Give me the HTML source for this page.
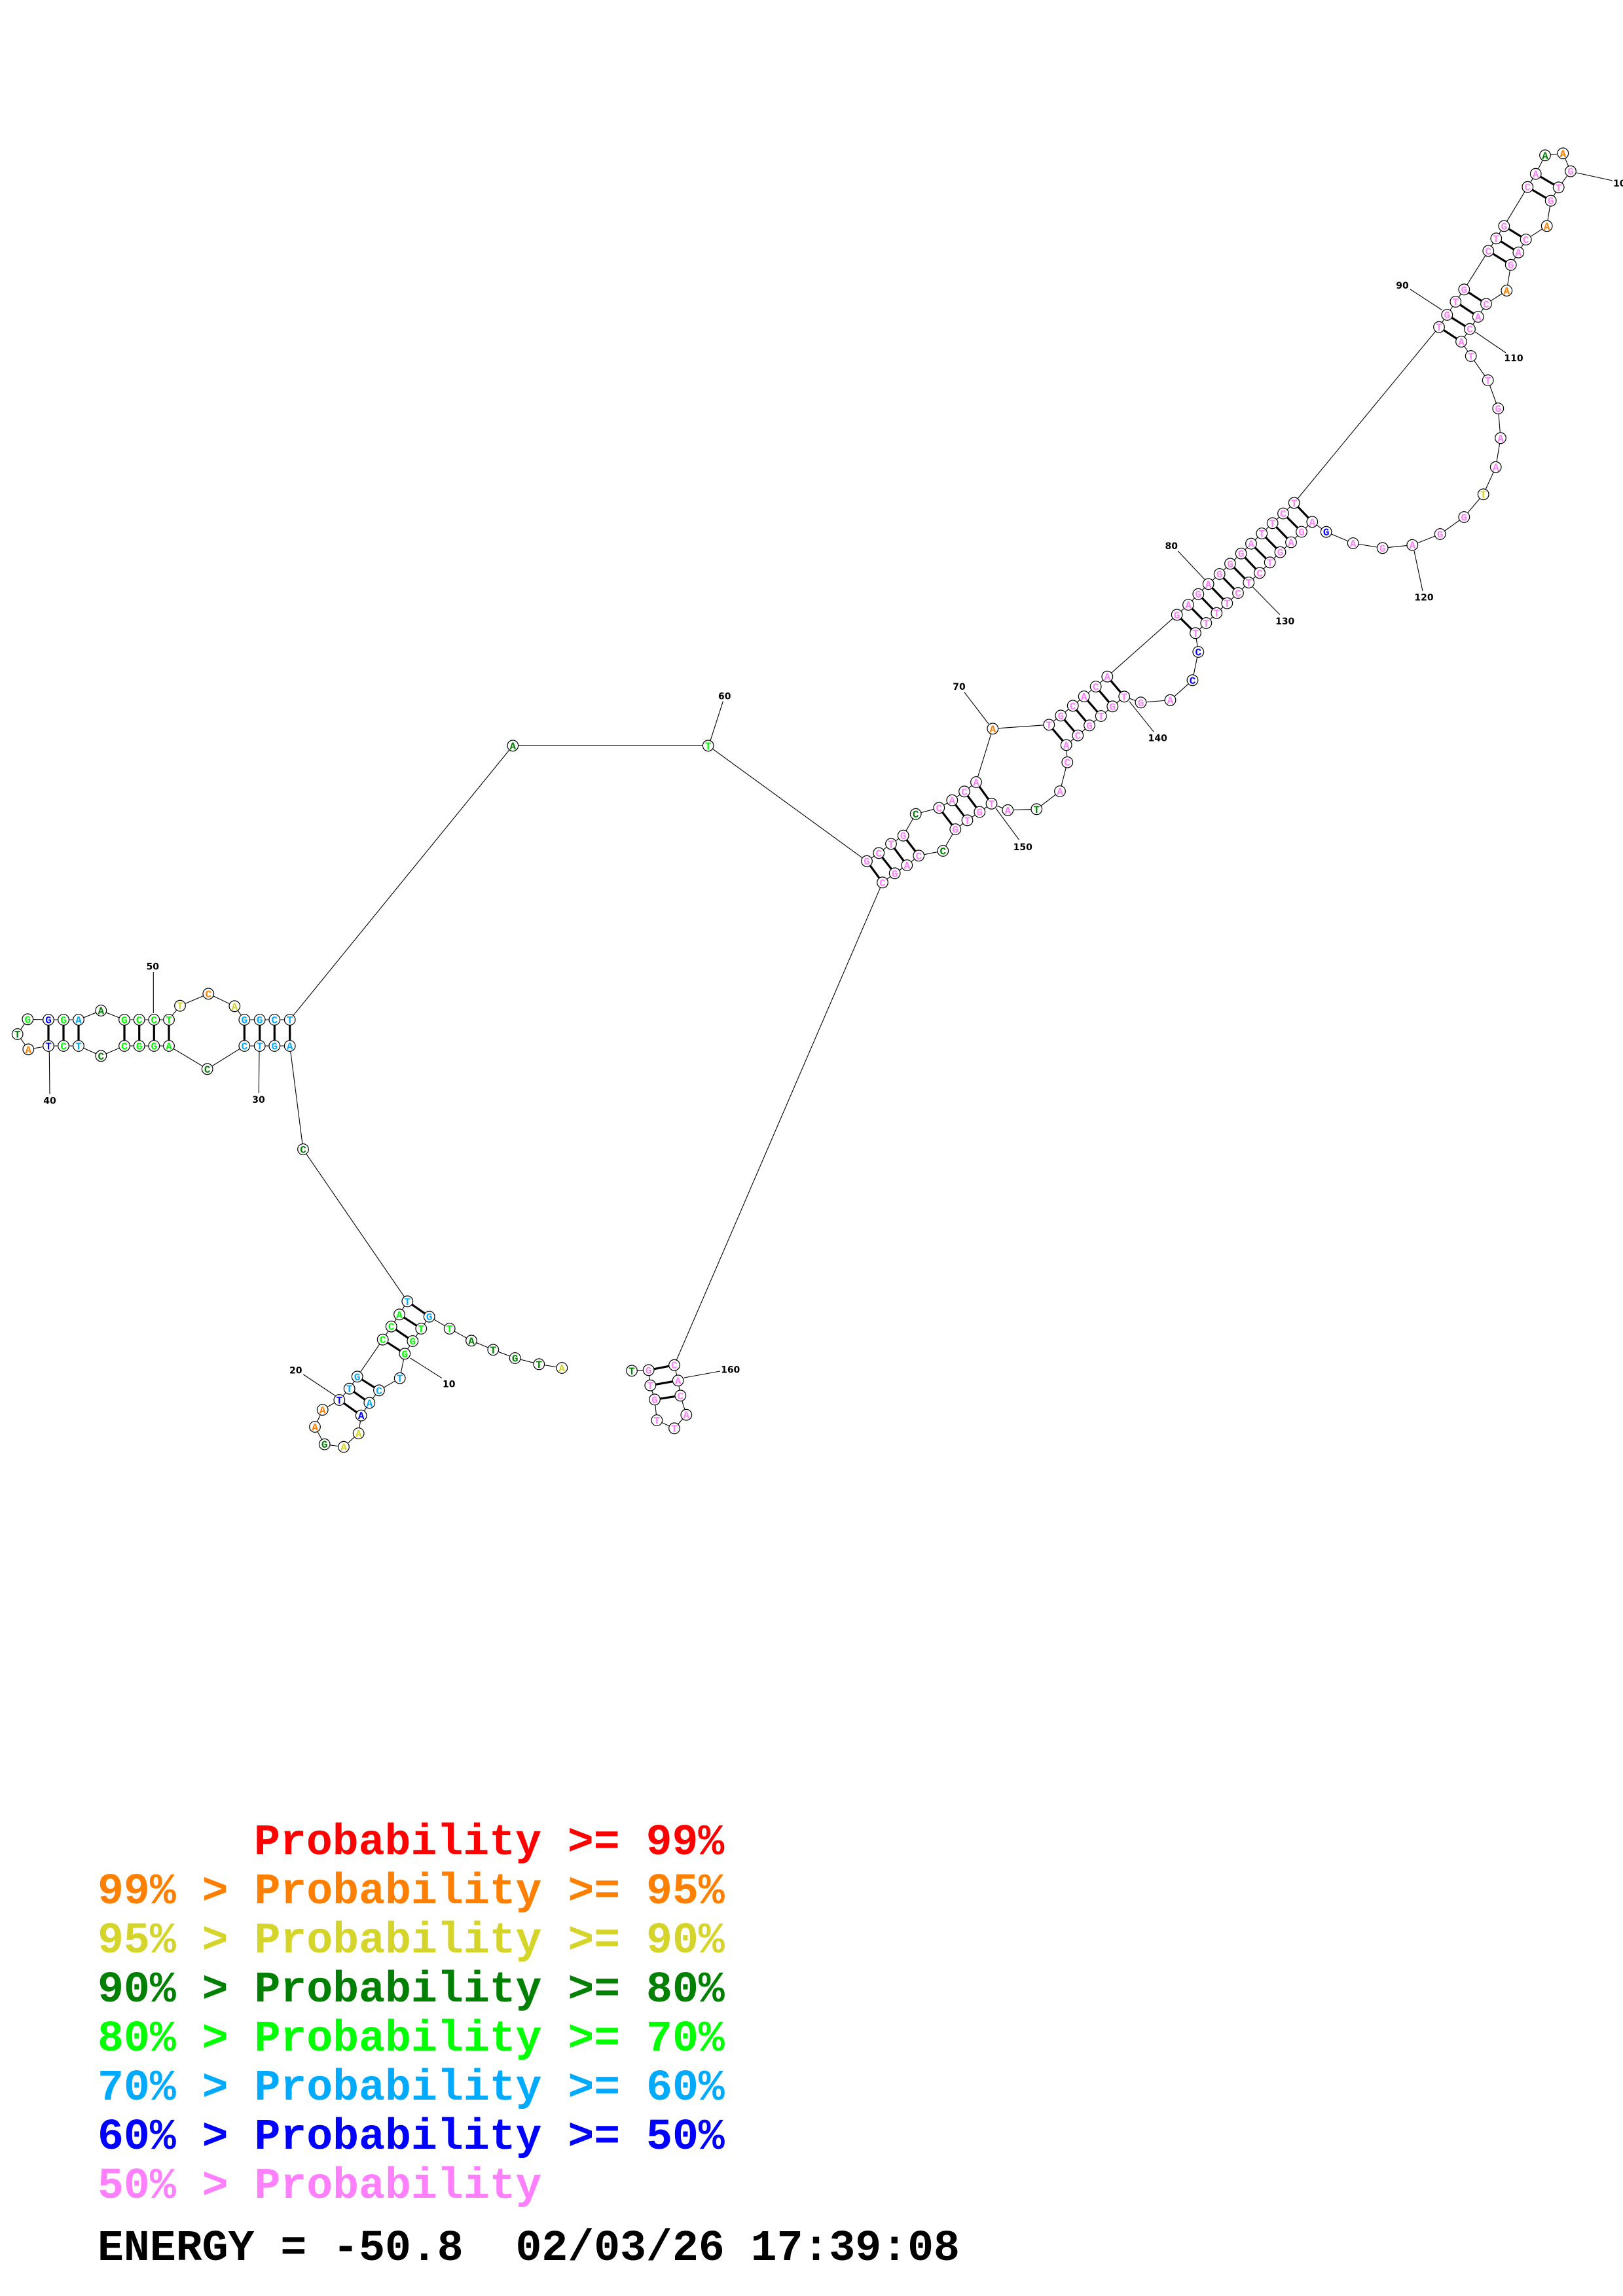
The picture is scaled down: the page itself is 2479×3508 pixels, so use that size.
<!DOCTYPE html>
<html>
<head>
<meta charset="utf-8">
<style>
html,body{margin:0;padding:0;background:#fff;}
svg{display:block;}
.bb{fill:none;stroke:#000;stroke-width:1.1;}
.bd line{stroke:#000;stroke-width:3.2;}
.lb line{stroke:#000;stroke-width:1.1;}
.cc circle{fill:#fff;stroke:#000;stroke-width:1.2;}
.tt text{font-family:"Liberation Mono",monospace;font-weight:bold;font-size:16px;text-anchor:middle;}
.lab text{font-family:"DejaVu Sans",sans-serif;font-weight:bold;font-size:14px;text-anchor:middle;fill:#000;}
.leg text{font-family:"Liberation Mono",monospace;font-weight:bold;font-size:66.5px;white-space:pre;}
.p{fill:#ff80ff}.b{fill:#0000ff}.l{fill:#00aaff}.g{fill:#00ff00}.d{fill:#008000}.y{fill:#d4d42a}.o{fill:#ff8000}.r{fill:#ff0000}.k{fill:#000}
</style>
</head>
<body>
<svg width="2479" height="3508" viewBox="0 0 2479 3508" xmlns="http://www.w3.org/2000/svg">
<rect x="0" y="0" width="2479" height="3508" fill="#fff"/>
<polyline class="bb" points="858.3,2090 823.3,2084.3 786.7,2075 753.3,2062.3 720,2048.3 686.7,2030 655.7,2011.7 643.3,2030 630.3,2049 618.3,2068.3 610.7,2105.7 579,2124.3 564.3,2143.3 551.7,2162.7 547.7,2190 525,2210.7 495.7,2206.7 481,2180 492.7,2154 518.3,2139 533.7,2121.7 545.7,2103.3 584.7,2046.7 597.7,2026.7 610,2008.3 622.3,1988.3 463,1756 442.7,1598 419.3,1598 396.7,1598 373.3,1598 316.7,1633.3 258,1598 235.3,1598 212.7,1598 190,1598 154.3,1613.3 120,1598 97,1598 74,1598 43.3,1603.3 26.7,1580 42.3,1557.3 74,1558 97,1558 120,1558 154.3,1544 190,1558 212.7,1558 235.3,1558 258,1558 275,1536.7 318.3,1518.3 358.3,1537.3 373.3,1558 396.7,1558 419.3,1558 442.7,1558 783.3,1139.3 1081.7,1139.3 1324,1315.7 1342.3,1303.3 1361,1289.3 1379.7,1276.7 1398.7,1243.7 1434.3,1234.3 1454.3,1222.7 1473,1209.3 1491,1195 1516.3,1113.3 1602.3,1107.3 1620.3,1093.3 1638.7,1078.3 1655.7,1064 1673.7,1049 1691.3,1033.7 1797.7,939.3 1815,924 1830.3,907.7 1845.7,892.3 1862.7,877 1879,861.3 1895.7,845.7 1911,830.7 1927.3,815 1943.7,799.3 1960,784.5 1976.7,768.3 2198,499.7 2210.3,481 2223.3,461 2236.3,442.3 2273.3,383.3 2285.3,364.3 2297.3,345.3 2333.3,285.7 2345.7,265.7 2360,237.3 2387.3,234.3 2399,261.7 2380.7,286.3 2368.7,306.7 2362.7,345.3 2330.7,366 2319.3,385.7 2307.7,404.7 2301.3,444 2270,464.3 2257.7,484 2245,502.7 2232,522 2246.7,544 2272.7,581 2288.3,624 2292,669.3 2284.7,713.7 2265.7,755.3 2236.3,790 2199.7,816 2157.3,832.7 2111.7,837.3 2066.7,830 2025.7,812.7 2004.3,797.3 1988,812.5 1972,828.5 1955.5,843.7 1939.7,859.3 1924,875.3 1907.3,890 1891,906 1874.3,921.7 1858.3,936.7 1842.3,952 1826,967.3 1830.3,996 1821.5,1039.3 1787.5,1069.7 1742.5,1073.3 1717.2,1064.3 1699.3,1079.3 1681.7,1094 1664,1108.3 1646.3,1123.7 1628.7,1138.3 1630.3,1164.7 1619,1209 1583.3,1236.3 1539.3,1237.8 1514.5,1227.8 1496.3,1240.5 1477.5,1253.3 1459.3,1267 1440.3,1300 1403.3,1307.3 1385.3,1322 1366.7,1334.3 1348,1348.3 1030,2085.7 1035.7,2109.3 1039.3,2132.3 1048.3,2161.7 1030,2182.3 1003.3,2170 1000,2138.3 993.3,2116.7 990.7,2093.3 965,2094.3"/>
<g class="bd">
<line x1="655.7" y1="2011.7" x2="622.3" y2="1988.3"/>
<line x1="643.3" y1="2030" x2="610" y2="2008.3"/>
<line x1="630.3" y1="2049" x2="597.7" y2="2026.7"/>
<line x1="618.3" y1="2068.3" x2="584.7" y2="2046.7"/>
<line x1="579" y1="2124.3" x2="545.7" y2="2103.3"/>
<line x1="564.3" y1="2143.3" x2="533.7" y2="2121.7"/>
<line x1="551.7" y1="2162.7" x2="518.3" y2="2139"/>
<line x1="442.7" y1="1598" x2="442.7" y2="1558"/>
<line x1="419.3" y1="1598" x2="419.3" y2="1558"/>
<line x1="396.7" y1="1598" x2="396.7" y2="1558"/>
<line x1="373.3" y1="1598" x2="373.3" y2="1558"/>
<line x1="258" y1="1598" x2="258" y2="1558"/>
<line x1="235.3" y1="1598" x2="235.3" y2="1558"/>
<line x1="212.7" y1="1598" x2="212.7" y2="1558"/>
<line x1="190" y1="1598" x2="190" y2="1558"/>
<line x1="120" y1="1598" x2="120" y2="1558"/>
<line x1="97" y1="1598" x2="97" y2="1558"/>
<line x1="74" y1="1598" x2="74" y2="1558"/>
<line x1="1324" y1="1315.7" x2="1348" y2="1348.3"/>
<line x1="1342.3" y1="1303.3" x2="1366.7" y2="1334.3"/>
<line x1="1361" y1="1289.3" x2="1385.3" y2="1322"/>
<line x1="1379.7" y1="1276.7" x2="1403.3" y2="1307.3"/>
<line x1="1434.3" y1="1234.3" x2="1459.3" y2="1267"/>
<line x1="1454.3" y1="1222.7" x2="1477.5" y2="1253.3"/>
<line x1="1473" y1="1209.3" x2="1496.3" y2="1240.5"/>
<line x1="1491" y1="1195" x2="1514.5" y2="1227.8"/>
<line x1="1602.3" y1="1107.3" x2="1628.7" y2="1138.3"/>
<line x1="1620.3" y1="1093.3" x2="1646.3" y2="1123.7"/>
<line x1="1638.7" y1="1078.3" x2="1664" y2="1108.3"/>
<line x1="1655.7" y1="1064" x2="1681.7" y2="1094"/>
<line x1="1673.7" y1="1049" x2="1699.3" y2="1079.3"/>
<line x1="1691.3" y1="1033.7" x2="1717.2" y2="1064.3"/>
<line x1="1797.7" y1="939.3" x2="1826" y2="967.3"/>
<line x1="1815" y1="924" x2="1842.3" y2="952"/>
<line x1="1830.3" y1="907.7" x2="1858.3" y2="936.7"/>
<line x1="1845.7" y1="892.3" x2="1874.3" y2="921.7"/>
<line x1="1862.7" y1="877" x2="1891" y2="906"/>
<line x1="1879" y1="861.3" x2="1907.3" y2="890"/>
<line x1="1895.7" y1="845.7" x2="1924" y2="875.3"/>
<line x1="1911" y1="830.7" x2="1939.7" y2="859.3"/>
<line x1="1927.3" y1="815" x2="1955.5" y2="843.7"/>
<line x1="1943.7" y1="799.3" x2="1972" y2="828.5"/>
<line x1="1960" y1="784.5" x2="1988" y2="812.5"/>
<line x1="1976.7" y1="768.3" x2="2004.3" y2="797.3"/>
<line x1="2198" y1="499.7" x2="2232" y2="522"/>
<line x1="2210.3" y1="481" x2="2245" y2="502.7"/>
<line x1="2223.3" y1="461" x2="2257.7" y2="484"/>
<line x1="2236.3" y1="442.3" x2="2270" y2="464.3"/>
<line x1="2273.3" y1="383.3" x2="2307.7" y2="404.7"/>
<line x1="2285.3" y1="364.3" x2="2319.3" y2="385.7"/>
<line x1="2297.3" y1="345.3" x2="2330.7" y2="366"/>
<line x1="2333.3" y1="285.7" x2="2368.7" y2="306.7"/>
<line x1="2345.7" y1="265.7" x2="2380.7" y2="286.3"/>
<line x1="1030" y1="2085.7" x2="990.7" y2="2093.3"/>
<line x1="1035.7" y1="2109.3" x2="993.3" y2="2116.7"/>
<line x1="1039.3" y1="2132.3" x2="1000" y2="2138.3"/>
</g>
<g class="lb">
<line x1="626.7" y1="2075" x2="675" y2="2105.7"/>
<line x1="463.3" y1="2100" x2="513.3" y2="2133.3"/>
<line x1="396" y1="1605" x2="395.3" y2="1670"/>
<line x1="75.3" y1="1606.7" x2="76" y2="1671.7"/>
<line x1="234.3" y1="1485" x2="234.3" y2="1548"/>
<line x1="1085" y1="1131.7" x2="1104.3" y2="1071.7"/>
<line x1="1472.7" y1="1057.3" x2="1510" y2="1106"/>
<line x1="1799.3" y1="842" x2="1840" y2="885.3"/>
<line x1="2154" y1="442" x2="2203" y2="474"/>
<line x1="2408" y1="264" x2="2463" y2="276"/>
<line x1="2253" y1="507" x2="2300" y2="539"/>
<line x1="2160" y1="841.7" x2="2173" y2="903"/>
<line x1="1913.3" y1="896.7" x2="1955" y2="939.3"/>
<line x1="1725" y1="1071.7" x2="1762.3" y2="1118.3"/>
<line x1="1521" y1="1235" x2="1556.7" y2="1283.3"/>
<line x1="1045" y1="2105" x2="1100" y2="2095"/>
</g>
<g class="lab">
<text x="685.7" y="2119.3">10</text>
<text x="451.7" y="2098.3">20</text>
<text x="395" y="1685">30</text>
<text x="76" y="1686.7">40</text>
<text x="233.3" y="1481.7">50</text>
<text x="1106.7" y="1068.3">60</text>
<text x="1465" y="1054">70</text>
<text x="1789.3" y="839">80</text>
<text x="2142" y="441">90</text>
<text x="2464" y="285" style="text-anchor:start">100</text>
<text x="2312" y="552">110</text>
<text x="2175" y="917.7">120</text>
<text x="1962.7" y="954">130</text>
<text x="1768.3" y="1132.7">140</text>
<text x="1562.3" y="1299">150</text>
<text x="1115.7" y="2097.7">160</text>
</g>
<g class="cc">
<circle cx="858.3" cy="2090" r="8.3"/><circle cx="823.3" cy="2084.3" r="8.3"/><circle cx="786.7" cy="2075" r="8.3"/><circle cx="753.3" cy="2062.3" r="8.3"/><circle cx="720" cy="2048.3" r="8.3"/><circle cx="686.7" cy="2030" r="8.3"/><circle cx="655.7" cy="2011.7" r="8.3"/><circle cx="643.3" cy="2030" r="8.3"/><circle cx="630.3" cy="2049" r="8.3"/><circle cx="618.3" cy="2068.3" r="8.3"/>
<circle cx="610.7" cy="2105.7" r="8.3"/><circle cx="579" cy="2124.3" r="8.3"/><circle cx="564.3" cy="2143.3" r="8.3"/><circle cx="551.7" cy="2162.7" r="8.3"/><circle cx="547.7" cy="2190" r="8.3"/><circle cx="525" cy="2210.7" r="8.3"/><circle cx="495.7" cy="2206.7" r="8.3"/><circle cx="481" cy="2180" r="8.3"/><circle cx="492.7" cy="2154" r="8.3"/><circle cx="518.3" cy="2139" r="8.3"/>
<circle cx="533.7" cy="2121.7" r="8.3"/><circle cx="545.7" cy="2103.3" r="8.3"/><circle cx="584.7" cy="2046.7" r="8.3"/><circle cx="597.7" cy="2026.7" r="8.3"/><circle cx="610" cy="2008.3" r="8.3"/><circle cx="622.3" cy="1988.3" r="8.3"/><circle cx="463" cy="1756" r="8.3"/><circle cx="442.7" cy="1598" r="8.3"/><circle cx="419.3" cy="1598" r="8.3"/><circle cx="396.7" cy="1598" r="8.3"/>
<circle cx="373.3" cy="1598" r="8.3"/><circle cx="316.7" cy="1633.3" r="8.3"/><circle cx="258" cy="1598" r="8.3"/><circle cx="235.3" cy="1598" r="8.3"/><circle cx="212.7" cy="1598" r="8.3"/><circle cx="190" cy="1598" r="8.3"/><circle cx="154.3" cy="1613.3" r="8.3"/><circle cx="120" cy="1598" r="8.3"/><circle cx="97" cy="1598" r="8.3"/><circle cx="74" cy="1598" r="8.3"/>
<circle cx="43.3" cy="1603.3" r="8.3"/><circle cx="26.7" cy="1580" r="8.3"/><circle cx="42.3" cy="1557.3" r="8.3"/><circle cx="74" cy="1558" r="8.3"/><circle cx="97" cy="1558" r="8.3"/><circle cx="120" cy="1558" r="8.3"/><circle cx="154.3" cy="1544" r="8.3"/><circle cx="190" cy="1558" r="8.3"/><circle cx="212.7" cy="1558" r="8.3"/><circle cx="235.3" cy="1558" r="8.3"/>
<circle cx="258" cy="1558" r="8.3"/><circle cx="275" cy="1536.7" r="8.3"/><circle cx="318.3" cy="1518.3" r="8.3"/><circle cx="358.3" cy="1537.3" r="8.3"/><circle cx="373.3" cy="1558" r="8.3"/><circle cx="396.7" cy="1558" r="8.3"/><circle cx="419.3" cy="1558" r="8.3"/><circle cx="442.7" cy="1558" r="8.3"/><circle cx="783.3" cy="1139.3" r="8.3"/><circle cx="1081.7" cy="1139.3" r="8.3"/>
<circle cx="1324" cy="1315.7" r="8.3"/><circle cx="1342.3" cy="1303.3" r="8.3"/><circle cx="1361" cy="1289.3" r="8.3"/><circle cx="1379.7" cy="1276.7" r="8.3"/><circle cx="1398.7" cy="1243.7" r="8.3"/><circle cx="1434.3" cy="1234.3" r="8.3"/><circle cx="1454.3" cy="1222.7" r="8.3"/><circle cx="1473" cy="1209.3" r="8.3"/><circle cx="1491" cy="1195" r="8.3"/><circle cx="1516.3" cy="1113.3" r="8.3"/>
<circle cx="1602.3" cy="1107.3" r="8.3"/><circle cx="1620.3" cy="1093.3" r="8.3"/><circle cx="1638.7" cy="1078.3" r="8.3"/><circle cx="1655.7" cy="1064" r="8.3"/><circle cx="1673.7" cy="1049" r="8.3"/><circle cx="1691.3" cy="1033.7" r="8.3"/><circle cx="1797.7" cy="939.3" r="8.3"/><circle cx="1815" cy="924" r="8.3"/><circle cx="1830.3" cy="907.7" r="8.3"/><circle cx="1845.7" cy="892.3" r="8.3"/>
<circle cx="1862.7" cy="877" r="8.3"/><circle cx="1879" cy="861.3" r="8.3"/><circle cx="1895.7" cy="845.7" r="8.3"/><circle cx="1911" cy="830.7" r="8.3"/><circle cx="1927.3" cy="815" r="8.3"/><circle cx="1943.7" cy="799.3" r="8.3"/><circle cx="1960" cy="784.5" r="8.3"/><circle cx="1976.7" cy="768.3" r="8.3"/><circle cx="2198" cy="499.7" r="8.3"/><circle cx="2210.3" cy="481" r="8.3"/>
<circle cx="2223.3" cy="461" r="8.3"/><circle cx="2236.3" cy="442.3" r="8.3"/><circle cx="2273.3" cy="383.3" r="8.3"/><circle cx="2285.3" cy="364.3" r="8.3"/><circle cx="2297.3" cy="345.3" r="8.3"/><circle cx="2333.3" cy="285.7" r="8.3"/><circle cx="2345.7" cy="265.7" r="8.3"/><circle cx="2360" cy="237.3" r="8.3"/><circle cx="2387.3" cy="234.3" r="8.3"/><circle cx="2399" cy="261.7" r="8.3"/>
<circle cx="2380.7" cy="286.3" r="8.3"/><circle cx="2368.7" cy="306.7" r="8.3"/><circle cx="2362.7" cy="345.3" r="8.3"/><circle cx="2330.7" cy="366" r="8.3"/><circle cx="2319.3" cy="385.7" r="8.3"/><circle cx="2307.7" cy="404.7" r="8.3"/><circle cx="2301.3" cy="444" r="8.3"/><circle cx="2270" cy="464.3" r="8.3"/><circle cx="2257.7" cy="484" r="8.3"/><circle cx="2245" cy="502.7" r="8.3"/>
<circle cx="2232" cy="522" r="8.3"/><circle cx="2246.7" cy="544" r="8.3"/><circle cx="2272.7" cy="581" r="8.3"/><circle cx="2288.3" cy="624" r="8.3"/><circle cx="2292" cy="669.3" r="8.3"/><circle cx="2284.7" cy="713.7" r="8.3"/><circle cx="2265.7" cy="755.3" r="8.3"/><circle cx="2236.3" cy="790" r="8.3"/><circle cx="2199.7" cy="816" r="8.3"/><circle cx="2157.3" cy="832.7" r="8.3"/>
<circle cx="2111.7" cy="837.3" r="8.3"/><circle cx="2066.7" cy="830" r="8.3"/><circle cx="2025.7" cy="812.7" r="8.3"/><circle cx="2004.3" cy="797.3" r="8.3"/><circle cx="1988" cy="812.5" r="8.3"/><circle cx="1972" cy="828.5" r="8.3"/><circle cx="1955.5" cy="843.7" r="8.3"/><circle cx="1939.7" cy="859.3" r="8.3"/><circle cx="1924" cy="875.3" r="8.3"/><circle cx="1907.3" cy="890" r="8.3"/>
<circle cx="1891" cy="906" r="8.3"/><circle cx="1874.3" cy="921.7" r="8.3"/><circle cx="1858.3" cy="936.7" r="8.3"/><circle cx="1842.3" cy="952" r="8.3"/><circle cx="1826" cy="967.3" r="8.3"/><circle cx="1830.3" cy="996" r="8.3"/><circle cx="1821.5" cy="1039.3" r="8.3"/><circle cx="1787.5" cy="1069.7" r="8.3"/><circle cx="1742.5" cy="1073.3" r="8.3"/><circle cx="1717.2" cy="1064.3" r="8.3"/>
<circle cx="1699.3" cy="1079.3" r="8.3"/><circle cx="1681.7" cy="1094" r="8.3"/><circle cx="1664" cy="1108.3" r="8.3"/><circle cx="1646.3" cy="1123.7" r="8.3"/><circle cx="1628.7" cy="1138.3" r="8.3"/><circle cx="1630.3" cy="1164.7" r="8.3"/><circle cx="1619" cy="1209" r="8.3"/><circle cx="1583.3" cy="1236.3" r="8.3"/><circle cx="1539.3" cy="1237.8" r="8.3"/><circle cx="1514.5" cy="1227.8" r="8.3"/>
<circle cx="1496.3" cy="1240.5" r="8.3"/><circle cx="1477.5" cy="1253.3" r="8.3"/><circle cx="1459.3" cy="1267" r="8.3"/><circle cx="1440.3" cy="1300" r="8.3"/><circle cx="1403.3" cy="1307.3" r="8.3"/><circle cx="1385.3" cy="1322" r="8.3"/><circle cx="1366.7" cy="1334.3" r="8.3"/><circle cx="1348" cy="1348.3" r="8.3"/><circle cx="1030" cy="2085.7" r="8.3"/><circle cx="1035.7" cy="2109.3" r="8.3"/>
<circle cx="1039.3" cy="2132.3" r="8.3"/><circle cx="1048.3" cy="2161.7" r="8.3"/><circle cx="1030" cy="2182.3" r="8.3"/><circle cx="1003.3" cy="2170" r="8.3"/><circle cx="1000" cy="2138.3" r="8.3"/><circle cx="993.3" cy="2116.7" r="8.3"/><circle cx="990.7" cy="2093.3" r="8.3"/><circle cx="965" cy="2094.3" r="8.3"/>
</g>
<g class="tt" transform="translate(0,5.5)">
<text x="858.3" y="2090" class="y">A</text><text x="823.3" y="2084.3" class="d">T</text><text x="786.7" y="2075" class="d">G</text><text x="753.3" y="2062.3" class="d">T</text><text x="720" y="2048.3" class="d">A</text><text x="686.7" y="2030" class="g">T</text><text x="655.7" y="2011.7" class="l">G</text><text x="643.3" y="2030" class="g">T</text><text x="630.3" y="2049" class="g">G</text><text x="618.3" y="2068.3" class="g">G</text>
<text x="610.7" y="2105.7" class="l">T</text><text x="579" y="2124.3" class="l">C</text><text x="564.3" y="2143.3" class="l">A</text><text x="551.7" y="2162.7" class="b">A</text><text x="547.7" y="2190" class="y">A</text><text x="525" y="2210.7" class="y">A</text><text x="495.7" y="2206.7" class="d">G</text><text x="481" y="2180" class="o">A</text><text x="492.7" y="2154" class="o">A</text><text x="518.3" y="2139" class="b">T</text>
<text x="533.7" y="2121.7" class="l">T</text><text x="545.7" y="2103.3" class="l">G</text><text x="584.7" y="2046.7" class="g">C</text><text x="597.7" y="2026.7" class="g">C</text><text x="610" y="2008.3" class="g">A</text><text x="622.3" y="1988.3" class="l">T</text><text x="463" y="1756" class="d">C</text><text x="442.7" y="1598" class="l">A</text><text x="419.3" y="1598" class="l">G</text><text x="396.7" y="1598" class="l">T</text>
<text x="373.3" y="1598" class="l">C</text><text x="316.7" y="1633.3" class="d">C</text><text x="258" y="1598" class="g">A</text><text x="235.3" y="1598" class="g">G</text><text x="212.7" y="1598" class="g">G</text><text x="190" y="1598" class="g">C</text><text x="154.3" y="1613.3" class="d">C</text><text x="120" y="1598" class="l">T</text><text x="97" y="1598" class="g">C</text><text x="74" y="1598" class="b">T</text>
<text x="43.3" y="1603.3" class="o">A</text><text x="26.7" y="1580" class="d">T</text><text x="42.3" y="1557.3" class="g">G</text><text x="74" y="1558" class="b">G</text><text x="97" y="1558" class="g">G</text><text x="120" y="1558" class="l">A</text><text x="154.3" y="1544" class="d">A</text><text x="190" y="1558" class="g">G</text><text x="212.7" y="1558" class="g">C</text><text x="235.3" y="1558" class="g">C</text>
<text x="258" y="1558" class="g">T</text><text x="275" y="1536.7" class="y">T</text><text x="318.3" y="1518.3" class="o">C</text><text x="358.3" y="1537.3" class="y">A</text><text x="373.3" y="1558" class="l">G</text><text x="396.7" y="1558" class="l">G</text><text x="419.3" y="1558" class="l">C</text><text x="442.7" y="1558" class="l">T</text><text x="783.3" y="1139.3" class="d">A</text><text x="1081.7" y="1139.3" class="g">T</text>
<text x="1324" y="1315.7" class="p">G</text><text x="1342.3" y="1303.3" class="p">C</text><text x="1361" y="1289.3" class="p">T</text><text x="1379.7" y="1276.7" class="p">G</text><text x="1398.7" y="1243.7" class="d">C</text><text x="1434.3" y="1234.3" class="p">C</text><text x="1454.3" y="1222.7" class="p">A</text><text x="1473" y="1209.3" class="p">C</text><text x="1491" y="1195" class="p">A</text><text x="1516.3" y="1113.3" class="o">A</text>
<text x="1602.3" y="1107.3" class="p">T</text><text x="1620.3" y="1093.3" class="p">G</text><text x="1638.7" y="1078.3" class="p">C</text><text x="1655.7" y="1064" class="p">A</text><text x="1673.7" y="1049" class="p">C</text><text x="1691.3" y="1033.7" class="p">A</text><text x="1797.7" y="939.3" class="p">G</text><text x="1815" y="924" class="p">A</text><text x="1830.3" y="907.7" class="p">G</text><text x="1845.7" y="892.3" class="p">A</text>
<text x="1862.7" y="877" class="p">G</text><text x="1879" y="861.3" class="p">G</text><text x="1895.7" y="845.7" class="p">G</text><text x="1911" y="830.7" class="p">A</text><text x="1927.3" y="815" class="p">T</text><text x="1943.7" y="799.3" class="p">T</text><text x="1960" y="784.5" class="p">C</text><text x="1976.7" y="768.3" class="p">T</text><text x="2198" y="499.7" class="p">T</text><text x="2210.3" y="481" class="p">G</text>
<text x="2223.3" y="461" class="p">T</text><text x="2236.3" y="442.3" class="p">G</text><text x="2273.3" y="383.3" class="p">C</text><text x="2285.3" y="364.3" class="p">T</text><text x="2297.3" y="345.3" class="p">G</text><text x="2333.3" y="285.7" class="p">C</text><text x="2345.7" y="265.7" class="p">A</text><text x="2360" y="237.3" class="d">A</text><text x="2387.3" y="234.3" class="o">A</text><text x="2399" y="261.7" class="p">G</text>
<text x="2380.7" y="286.3" class="p">T</text><text x="2368.7" y="306.7" class="p">G</text><text x="2362.7" y="345.3" class="o">A</text><text x="2330.7" y="366" class="p">C</text><text x="2319.3" y="385.7" class="p">A</text><text x="2307.7" y="404.7" class="p">G</text><text x="2301.3" y="444" class="o">A</text><text x="2270" y="464.3" class="p">C</text><text x="2257.7" y="484" class="p">A</text><text x="2245" y="502.7" class="p">C</text>
<text x="2232" y="522" class="p">A</text><text x="2246.7" y="544" class="p">T</text><text x="2272.7" y="581" class="p">T</text><text x="2288.3" y="624" class="p">G</text><text x="2292" y="669.3" class="p">A</text><text x="2284.7" y="713.7" class="p">A</text><text x="2265.7" y="755.3" class="y">T</text><text x="2236.3" y="790" class="p">G</text><text x="2199.7" y="816" class="p">G</text><text x="2157.3" y="832.7" class="p">A</text>
<text x="2111.7" y="837.3" class="p">G</text><text x="2066.7" y="830" class="p">A</text><text x="2025.7" y="812.7" class="b">G</text><text x="2004.3" y="797.3" class="p">A</text><text x="1988" y="812.5" class="p">G</text><text x="1972" y="828.5" class="p">A</text><text x="1955.5" y="843.7" class="p">G</text><text x="1939.7" y="859.3" class="p">T</text><text x="1924" y="875.3" class="p">C</text><text x="1907.3" y="890" class="p">T</text>
<text x="1891" y="906" class="p">C</text><text x="1874.3" y="921.7" class="p">T</text><text x="1858.3" y="936.7" class="p">T</text><text x="1842.3" y="952" class="p">T</text><text x="1826" y="967.3" class="p">T</text><text x="1830.3" y="996" class="b">C</text><text x="1821.5" y="1039.3" class="b">C</text><text x="1787.5" y="1069.7" class="p">A</text><text x="1742.5" y="1073.3" class="p">G</text><text x="1717.2" y="1064.3" class="p">T</text>
<text x="1699.3" y="1079.3" class="p">G</text><text x="1681.7" y="1094" class="p">T</text><text x="1664" y="1108.3" class="p">G</text><text x="1646.3" y="1123.7" class="p">C</text><text x="1628.7" y="1138.3" class="p">A</text><text x="1630.3" y="1164.7" class="p">C</text><text x="1619" y="1209" class="p">A</text><text x="1583.3" y="1236.3" class="d">T</text><text x="1539.3" y="1237.8" class="p">A</text><text x="1514.5" y="1227.8" class="p">T</text>
<text x="1496.3" y="1240.5" class="p">G</text><text x="1477.5" y="1253.3" class="p">T</text><text x="1459.3" y="1267" class="p">G</text><text x="1440.3" y="1300" class="d">C</text><text x="1403.3" y="1307.3" class="p">C</text><text x="1385.3" y="1322" class="p">A</text><text x="1366.7" y="1334.3" class="p">G</text><text x="1348" y="1348.3" class="p">C</text><text x="1030" y="2085.7" class="p">C</text><text x="1035.7" y="2109.3" class="p">A</text>
<text x="1039.3" y="2132.3" class="p">C</text><text x="1048.3" y="2161.7" class="p">A</text><text x="1030" y="2182.3" class="p">T</text><text x="1003.3" y="2170" class="p">T</text><text x="1000" y="2138.3" class="p">G</text><text x="993.3" y="2116.7" class="p">T</text><text x="990.7" y="2093.3" class="p">G</text><text x="965" y="2094.3" class="d">T</text>
</g>
<g class="leg">
<text x="388" y="2833" class="r">Probability &gt;= 99%</text>
<text x="149" y="2908" class="o">99% &gt; Probability &gt;= 95%</text>
<text x="149" y="2983" class="y">95% &gt; Probability &gt;= 90%</text>
<text x="149" y="3058" class="d">90% &gt; Probability &gt;= 80%</text>
<text x="149" y="3133" class="g">80% &gt; Probability &gt;= 70%</text>
<text x="149" y="3208" class="l">70% &gt; Probability &gt;= 60%</text>
<text x="149" y="3283" class="b">60% &gt; Probability &gt;= 50%</text>
<text x="149" y="3358" class="p">50% &gt; Probability</text>
<text x="149" y="3453" class="k">ENERGY = -50.8  02/03/26 17:39:08</text>
</g>
</svg>
</body>
</html>
